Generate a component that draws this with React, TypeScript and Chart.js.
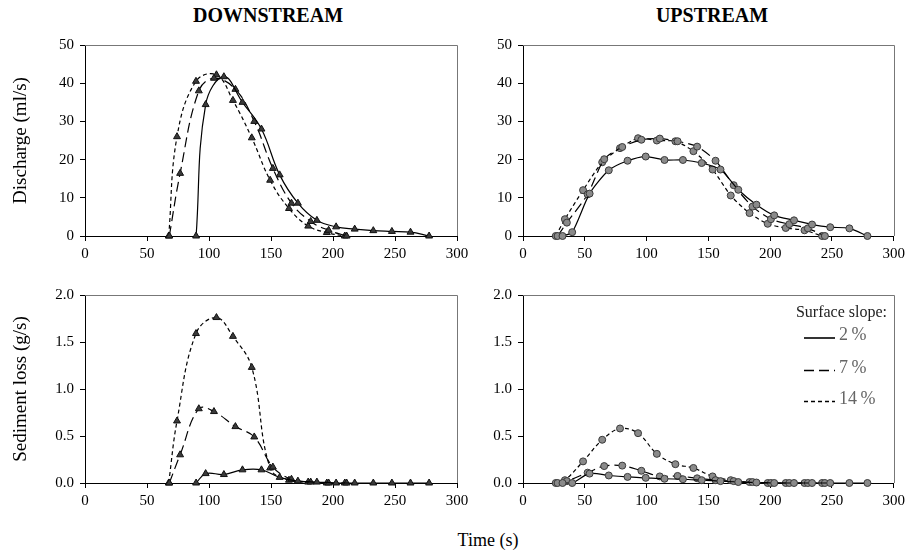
import React, { useEffect, useRef } from 'react';
import { Chart, registerables } from 'chart.js';
Chart.register(...registerables);

const FONT = '"Liberation Serif", "Times New Roman", serif';

// ---------- Data (time in s) ----------
// Downstream discharge (ml/s)
const dsQ2T = [89.6, 97.3, 112, 127, 142.3, 157, 171.7, 187, 202.5, 217.5, 232.5, 247.5, 262.5, 277.5];
const dsQ2V = [0, 34.4, 41.7, 35.0, 28.0, 16.0, 8.6, 4.1, 2.4, 1.8, 1.4, 1.2, 1.0, 0];
const dsQ7T = [68, 76.7, 91.8, 104, 121.3, 136.5, 151.5, 166.5, 182, 196.5, 211];
const dsQ7V = [0, 16.4, 38, 41.3, 38.4, 30, 17.7, 8.6, 3.8, 1.5, 0];
const dsQ14T = [67.5, 74.2, 89.5, 106, 119.3, 134.5, 149.3, 164.5, 180, 195, 209.5];
const dsQ14V = [0, 26, 40.5, 42.2, 35.5, 25.7, 14.6, 7.2, 2.6, 0.9, 0];
// Downstream sediment loss (g/s)
const dsS2V = [0, 0.1, 0.09, 0.14, 0.14, 0.06, 0.02, 0.01, 0, 0, 0, 0, 0, 0];
const dsS7V = [0, 0.3, 0.79, 0.76, 0.6, 0.49, 0.17, 0.04, 0.01, 0, 0];
const dsS14V = [0, 0.66, 1.59, 1.76, 1.56, 1.23, 0.16, 0.03, 0.01, 0, 0];
// Upstream discharge (ml/s)
const usQ2T = [32, 39.8, 53.9, 69.4, 84.6, 99.3, 114.5, 129.4, 144.6, 159.8, 174.2, 188.9, 203.3, 219.3, 233.9, 248.6, 264.1, 278.7];
const usQ2V = [0, 1.0, 11.1, 17.2, 19.7, 20.8, 19.9, 19.9, 19.1, 17.4, 12.1, 8.2, 5.4, 4.1, 3.0, 2.3, 2.0, 0];
const usQ7T = [28, 35.5, 52.3, 65.7, 80.3, 95.8, 110.7, 125.1, 140.9, 155.8, 170.5, 185.7, 200.6, 215.5, 230.5, 244.3];
const usQ7V = [0, 3.5, 10.9, 20.1, 23.3, 25.2, 25.5, 24.8, 23.4, 19.7, 13.3, 7.7, 4.4, 3.1, 2.0, 0];
const usQ14T = [26.5, 33.9, 48.6, 64.1, 78.5, 93.1, 108.3, 123.3, 137.9, 153.4, 168.1, 183.3, 198, 212.6, 227.8, 242];
const usQ14V = [0, 4.4, 12.0, 19.3, 23.0, 25.6, 25.0, 24.8, 22.2, 17.4, 10.6, 6.0, 3.2, 2.1, 1.5, 0];
// Upstream sediment loss (g/s)
const usS2V = [0, 0, 0.1, 0.08, 0.065, 0.055, 0.045, 0.04, 0.03, 0.02, 0.01, 0.005, 0, 0, 0, 0, 0, 0];
const usS7V = [0, 0.02, 0.11, 0.18, 0.185, 0.13, 0.07, 0.075, 0.05, 0.03, 0.02, 0.01, 0, 0, 0, 0];
const usS14V = [0, 0.03, 0.23, 0.46, 0.58, 0.53, 0.31, 0.2, 0.16, 0.07, 0.03, 0.01, 0, 0, 0, 0];

const slopeLabels = ['2\u2009%', '7\u2009%', '14\u2009%'];
const dashes: number[][] = [[], [10, 5], [4, 3]];

function pts(t: number[], v: number[]) {
  return t.map((x, i) => ({ x, y: v[i] }));
}

const boxPlugin = {
  id: 'box',
  beforeDatasetsDraw(chart: any) {
    const { ctx, chartArea } = chart;
    const { left, top, right, bottom } = chartArea;
    ctx.save();
    ctx.strokeStyle = '#777';
    ctx.lineWidth = 1;
    ctx.beginPath();
    ctx.moveTo(Math.round(left), Math.round(top) + 0.5);
    ctx.lineTo(Math.round(right) + 0.5, Math.round(top) + 0.5);
    ctx.lineTo(Math.round(right) + 0.5, Math.round(bottom));
    ctx.stroke();
    ctx.restore();
  },
};

const legendPlugin = {
  id: 'slopeLegend',
  afterDraw(chart: any) {
    const ctx = chart.ctx;
    ctx.save();
    ctx.fillStyle = '#222';
    ctx.font = `16px ${FONT}`;
    ctx.textAlign = 'right';
    ctx.textBaseline = 'middle';
    ctx.fillText('Surface slope:', 412, 33);
    const ys = [58, 90.5, 121.5];
    ys.forEach((y, i) => {
      ctx.strokeStyle = '#000';
      ctx.lineWidth = 1.6;
      ctx.setLineDash(dashes[i]);
      ctx.beginPath();
      ctx.moveTo(329, y);
      ctx.lineTo(360, y);
      ctx.stroke();
      ctx.setLineDash([]);
      ctx.fillStyle = '#666';
      ctx.font = `18px ${FONT}`;
      ctx.textAlign = 'left';
      ctx.textBaseline = 'alphabetic';
      ctx.fillText(slopeLabels[i], 364, y + 2);
    });
    ctx.restore();
  },
};

type Series = { t: number[]; v: number[] };

type PanelProps = {
  left: number; top: number; width: number; height: number;
  padL: number; padT: number; padR: number; axisW: number; axisH: number;
  yMax: number; yStep: number; yDec: number; yTitle?: string;
  series: Series[]; marker: 'triangle' | 'circle'; tension: number; legend?: boolean;
};

function Panel(p: PanelProps) {
  const ref = useRef<HTMLCanvasElement | null>(null);
  useEffect(() => {
    if (!ref.current) return;
    const tri = p.marker === 'triangle';
    const chart = new Chart(ref.current, {
      type: 'line',
      data: {
        datasets: p.series.map((s, i) => ({
          label: slopeLabels[i],
          data: pts(s.t, s.v),
          borderColor: '#000',
          borderWidth: 1.2,
          borderDash: dashes[i],
          pointStyle: p.marker,
          pointRadius: tri ? 4 : 3.5,
          pointBackgroundColor: tri ? '#3a3a3a' : '#8a8a8a',
          pointBorderColor: tri ? '#111' : '#3a3a3a',
          pointBorderWidth: 1,
          tension: p.tension,
          fill: false,
          clip: false as any,
        })),
      },
      options: {
        animation: false,
        responsive: false,
        devicePixelRatio: 1,
        layout: { padding: { left: p.padL, top: p.padT, right: p.padR, bottom: 0 } },
        plugins: { legend: { display: false }, tooltip: { enabled: false }, title: { display: false } },
        scales: {
          x: {
            type: 'linear',
            min: 0,
            max: 300,
            ticks: { stepSize: 50, font: { family: FONT, size: 15 }, color: '#000', padding: 4, maxRotation: 0, autoSkip: false },
            grid: { display: true, drawOnChartArea: false, drawTicks: true, tickLength: 5, color: '#000' },
            border: { display: true, color: '#000', width: 1 },
            afterFit: (s: any) => { s.height = p.axisH; },
          },
          y: {
            type: 'linear',
            min: 0,
            max: p.yMax,
            ticks: {
              stepSize: p.yStep,
              font: { family: FONT, size: 15 },
              color: '#000',
              padding: 6,
              callback: (v: any) => Number(v).toFixed(p.yDec),
            },
            grid: { display: true, drawOnChartArea: false, drawTicks: true, tickLength: 5, color: '#000' },
            border: { display: true, color: '#000', width: 1 },
            title: {
              display: !!p.yTitle,
              text: p.yTitle || '',
              font: { family: FONT, size: 19 },
              color: '#000',
              padding: { top: 3, bottom: 4 },
            },
            afterFit: (s: any) => { s.width = p.axisW; },
          },
        },
      } as any,
      plugins: p.legend ? [boxPlugin, legendPlugin] : [boxPlugin],
    });
    return () => chart.destroy();
  }, []);
  return (
    <canvas
      ref={ref}
      width={p.width}
      height={p.height}
      style={{ position: 'absolute', left: p.left, top: p.top, width: p.width, height: p.height }}
    />
  );
}

export default function App() {
  const titleStyle: React.CSSProperties = {
    position: 'absolute',
    transform: 'translate(-50%, -50%)',
    fontFamily: FONT,
    fontWeight: 'bold',
    fontSize: 20,
    whiteSpace: 'nowrap',
    color: '#000',
  };
  return (
    <div style={{ position: 'absolute', left: 0, top: 0, width: 909, height: 553, background: '#fff', overflow: 'hidden' }}>
      <div style={{ ...titleStyle, left: 268, top: 15 }}>DOWNSTREAM</div>
      <div style={{ ...titleStyle, left: 712, top: 15 }}>UPSTREAM</div>
      <Panel left={0} top={30} width={475} height={240} padL={7} padT={11} padR={18} axisW={78} axisH={34}
        yMax={50} yStep={10} yDec={0} yTitle="Discharge (ml/s)" marker="triangle" tension={0.4}
        series={[{ t: dsQ2T, v: dsQ2V }, { t: dsQ7T, v: dsQ7V }, { t: dsQ14T, v: dsQ14V }]} />
      <Panel left={475} top={30} width={434} height={240} padL={0} padT={11} padR={12} axisW={48} axisH={34}
        yMax={50} yStep={10} yDec={0} marker="circle" tension={0.25}
        series={[{ t: usQ2T, v: usQ2V }, { t: usQ7T, v: usQ7V }, { t: usQ14T, v: usQ14V }]} />
      <Panel left={0} top={280} width={475} height={240} padL={7} padT={10} padR={18} axisW={78} axisH={37}
        yMax={2} yStep={0.5} yDec={1} yTitle="Sediment loss (g/s)" marker="triangle" tension={0.4}
        series={[{ t: dsQ2T, v: dsS2V }, { t: dsQ7T, v: dsS7V }, { t: dsQ14T, v: dsS14V }]} />
      <Panel left={475} top={280} width={434} height={240} padL={0} padT={10} padR={12} axisW={48} axisH={37}
        yMax={2} yStep={0.5} yDec={1} marker="circle" tension={0.35} legend
        series={[{ t: usQ2T, v: usS2V }, { t: usQ7T, v: usS7V }, { t: usQ14T, v: usS14V }]} />
      <div style={{ position: 'absolute', left: 488, top: 540, transform: 'translate(-50%, -50%)', fontFamily: FONT, fontSize: 18, whiteSpace: 'nowrap', color: '#000' }}>
        Time (s)
      </div>
    </div>
  );
}
